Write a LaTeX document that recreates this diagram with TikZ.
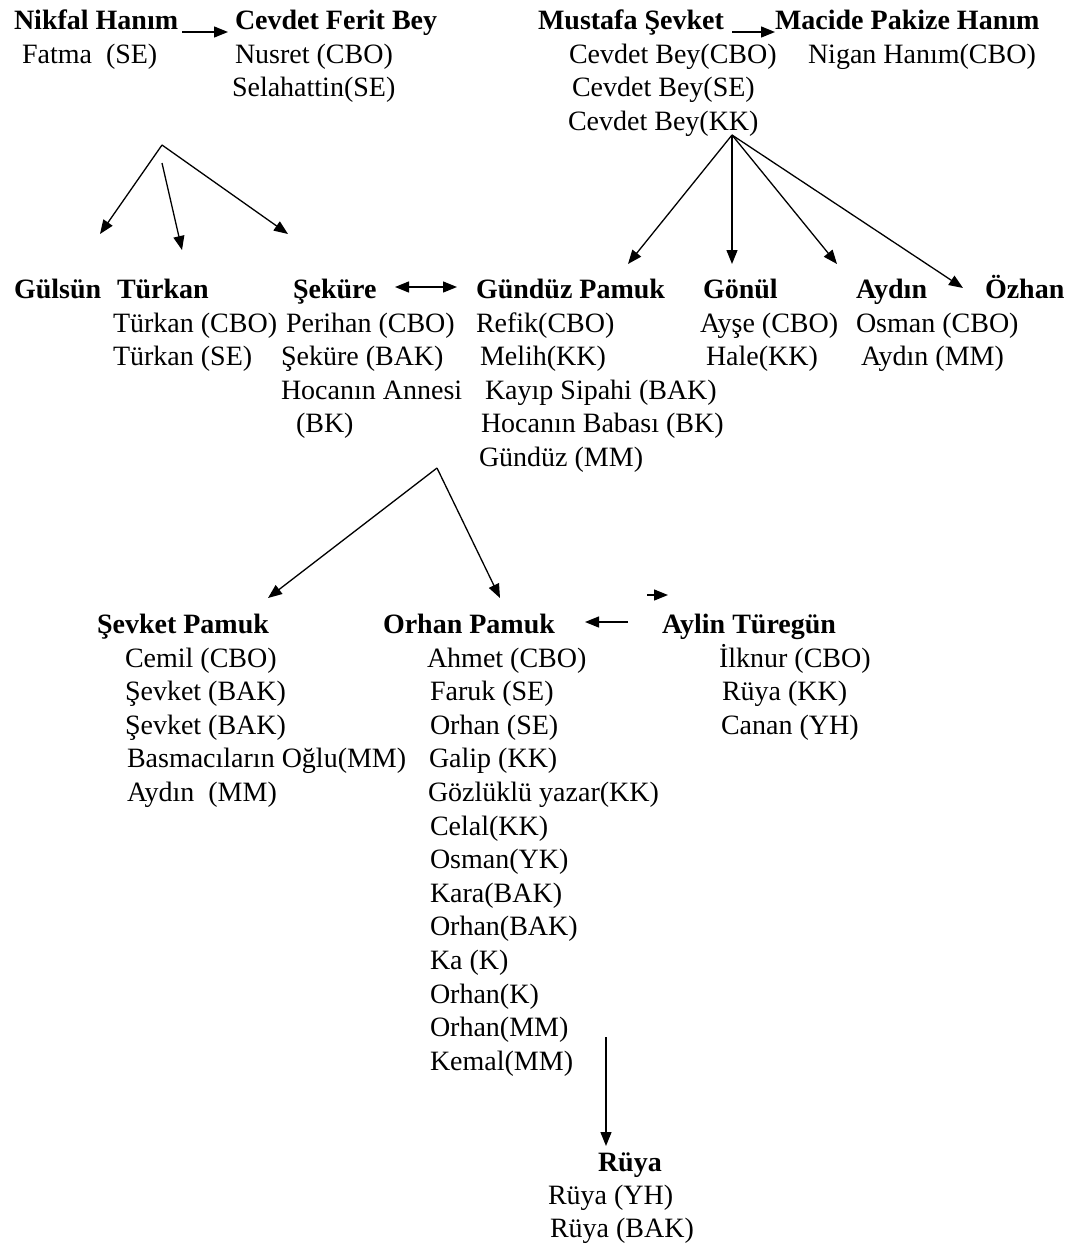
\documentclass[tikz,border=0pt]{standalone}
\usepackage{fontspec}
\setmainfont{Liberation Serif}
\usetikzlibrary{arrows.meta}
\begin{document}
\begin{tikzpicture}[x=1pt,y=-1pt,
  txt/.style={anchor=base west,inner sep=0pt,outer sep=0pt,font=\fontsize{28}{34}\selectfont},
  hd/.style={txt,font=\fontsize{28}{34}\selectfont\bfseries},
  arr/.style={line width=1.3pt,-{Triangle[length=14pt,width=11pt]}},
  darr/.style={line width=1.3pt,{Triangle[length=14pt,width=11pt]}-{Triangle[length=14pt,width=11pt]}}]
\useasboundingbox (0,0) rectangle (1077,1248);
% top row
\node[hd] (nikfal) at (14,29) {Nikfal Hanım};
\node[hd] (cevdetferit) at (235,29) {Cevdet Ferit Bey};
\node[hd] (mustafa) at (538,29) {Mustafa Şevket};
\node[hd] (macide) at (775,29) {Macide Pakize Hanım};
\node[txt] (fatma) at (22,63) {Fatma~ (SE)};
\node[txt] (nusret) at (235,63) {Nusret (CBO)};
\node[txt] (selahattin) at (232,96) {Selahattin(SE)};
\node[txt] (cbcbo) at (569,63) {Cevdet Bey(CBO)};
\node[txt] (nigan) at (808,63) {Nigan Hanım(CBO)};
\node[txt] (cbse) at (572,96) {Cevdet Bey(SE)};
\node[txt] (cbkk) at (568,130) {Cevdet Bey(KK)};
% second row
\node[hd] (gulsun) at (14,298) {Gülsün};
\node[hd] (turkan) at (117,298) {Türkan};
\node[hd] (sekure) at (293,298) {Şeküre};
\node[hd] (gunduz) at (476,298) {Gündüz Pamuk};
\node[hd] (gonul) at (703,298) {Gönül};
\node[hd] (aydin) at (856,298) {Aydın};
\node[hd] (ozhan) at (985,298) {Özhan};
\node[txt] (t1) at (113,332) {Türkan (CBO)};
\node[txt] (t2) at (113,365) {Türkan (SE)};
\node[txt] (s1) at (286,332) {Perihan (CBO)};
\node[txt] (s2) at (281,365) {Şeküre (BAK)};
\node[txt] (s3) at (281,399) {Hocanın Annesi};
\node[txt] (s4) at (296,432) {(BK)};
\node[txt] (g1) at (476,332) {Refik(CBO)};
\node[txt] (g2) at (480,365) {Melih(KK)};
\node[txt] (g3) at (485,399) {Kayıp Sipahi (BAK)};
\node[txt] (g4) at (481,432) {Hocanın Babası (BK)};
\node[txt] (g5) at (479,466) {Gündüz (MM)};
\node[txt] (o1) at (700,332) {Ayşe (CBO)};
\node[txt] (o2) at (706,365) {Hale(KK)};
\node[txt] (a1) at (856,332) {Osman (CBO)};
\node[txt] (a2) at (861,365) {Aydın (MM)};
% third row
\node[hd] (sevket) at (97,633) {Şevket Pamuk};
\node[hd] (orhan) at (383,633) {Orhan Pamuk};
\node[hd] (aylin) at (662,633) {Aylin Türegün};
\node[txt] (sv1) at (125,667) {Cemil (CBO)};
\node[txt] (sv2) at (125,700) {Şevket (BAK)};
\node[txt] (sv3) at (125,734) {Şevket (BAK)};
\node[txt] (sv4) at (127,767) {Basmacıların Oğlu(MM)};
\node[txt] (sv5) at (127,801) {Aydın~ (MM)};
\node[txt] (or1) at (427,667) {Ahmet (CBO)};
\node[txt] (or2) at (430,700) {Faruk (SE)};
\node[txt] (or3) at (430,734) {Orhan (SE)};
\node[txt] (or4) at (429,767) {Galip (KK)};
\node[txt] (or5) at (428,801) {Gözlüklü yazar(KK)};
\node[txt] (or6) at (430,835) {Celal(KK)};
\node[txt] (or7) at (430,868) {Osman(YK)};
\node[txt] (or8) at (430,902) {Kara(BAK)};
\node[txt] (or9) at (430,935) {Orhan(BAK)};
\node[txt] (or10) at (430,969) {Ka (K)};
\node[txt] (or11) at (430,1003) {Orhan(K)};
\node[txt] (or12) at (430,1036) {Orhan(MM)};
\node[txt] (or13) at (430,1070) {Kemal(MM)};
\node[txt] (ay1) at (719,667) {İlknur (CBO)};
\node[txt] (ay2) at (722,700) {Rüya (KK)};
\node[txt] (ay3) at (721,734) {Canan (YH)};
% bottom
\node[hd] (ruya) at (598,1171) {Rüya};
\node[txt] (r1) at (548,1204) {Rüya (YH)};
\node[txt] (r2) at (550,1237) {Rüya (BAK)};
% coordinates for connectors
\coordinate (e1s) at (182,32); \coordinate (e1t) at (228,32);
\coordinate (e2s) at (732,32); \coordinate (e2t) at (775,32);
\coordinate (lapex) at (162,145);
\coordinate (lmid) at (162,163);
\coordinate (lt1) at (100,234);
\coordinate (lt2) at (182,250);
\coordinate (lt3) at (288,234);
\coordinate (rapex) at (732,135);
\coordinate (rt1) at (628,264);
\coordinate (rt2) at (732,264);
\coordinate (rt3) at (837,264);
\coordinate (rt4) at (963,288);
\coordinate (ms) at (395,287); \coordinate (mt) at (457,287);
\coordinate (bapex) at (437,468);
\coordinate (bt1) at (268,598);
\coordinate (bt2) at (500,598);
\coordinate (als) at (628,622); \coordinate (alt) at (585,622);
\coordinate (sms) at (647,595); \coordinate (smt) at (668,595);
\coordinate (vs) at (606,1037); \coordinate (vt) at (606,1146);
% connectors
\draw[arr] (e1s) -- (e1t);
\draw[arr] (e2s) -- (e2t);
\draw[arr] (lapex) -- (lt1);
\draw[arr] (lmid) -- (lt2);
\draw[arr] (lapex) -- (lt3);
\draw[arr] (rapex) -- (rt1);
\draw[arr] (rapex) -- (rt2);
\draw[arr] (rapex) -- (rt3);
\draw[arr] (rapex) -- (rt4);
\draw[darr] (ms) -- (mt);
\draw[arr] (bapex) -- (bt1);
\draw[arr] (bapex) -- (bt2);
\draw[arr] (als) -- (alt);
\draw[arr] (sms) -- (smt);
\draw[arr] (vs) -- (vt);
\end{tikzpicture}
\end{document}
